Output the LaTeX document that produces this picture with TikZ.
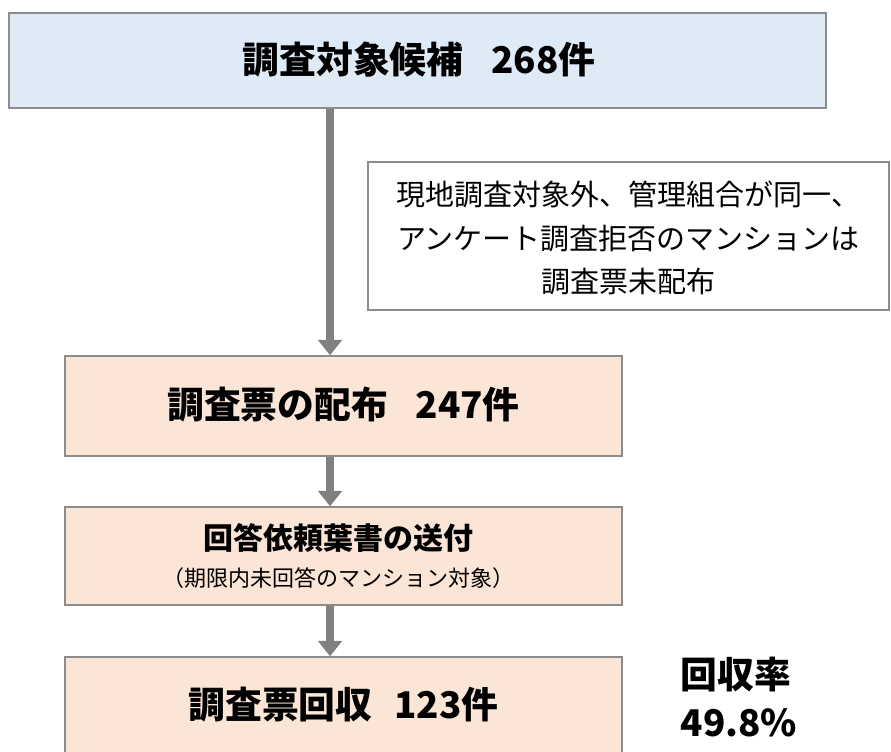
\documentclass[tikz,border=0pt]{standalone}
\usepackage{fontspec}
\usetikzlibrary{arrows.meta}
\newfontfamily\jp{Noto Sans CJK JP}
\definecolor{bluefill}{HTML}{DEEAF6}
\definecolor{peach}{HTML}{FBE5D6}
\definecolor{edge}{HTML}{8C8C8C}
\definecolor{arrowgray}{HTML}{808080}
\tikzset{
  box/.style={draw=edge, line width=1.1pt, inner sep=0pt, align=center, font=\jp},
  bluebox/.style={box, fill=bluefill},
  peachbox/.style={box, fill=peach},
  notebox/.style={box, fill=white, font=\jp\fontsize{21.75pt}{32pt}\selectfont},
  big/.style={font=\jp\bfseries\fontsize{27.6pt}{33pt}\selectfont},
  flow/.style={draw=arrowgray, line width=6pt, -{Triangle[width=17.5pt,length=11.5pt]}}
}
\begin{document}
\begin{tikzpicture}[x=0.75pt,y=-0.75pt]
\useasboundingbox (0,0) rectangle (891,751);
\begin{scope}
\clip (0,0) rectangle (891,751);
\node[bluebox, minimum width=612.75pt, minimum height=71.25pt] (top) at (417.5,60.5) {};
\node[notebox, minimum width=390.75pt, minimum height=111pt] (note) at (628.5,236) {};
\node[peachbox, minimum width=417.75pt, minimum height=75pt] (b2) at (343.5,406) {};
\node[peachbox, minimum width=417.75pt, minimum height=73.5pt] (b3) at (343.5,556) {};
\node[peachbox, minimum width=417.75pt, minimum height=72pt] (b4) at (343.5,705) {};
\end{scope}
\node[big] (t1) at (419,60) {調査対象候補\hspace{0.75em}268件};
\node[align=center, font=\jp\fontsize{21.75pt}{32.5pt}\selectfont] (nt) at (628.5,238) {現地調査対象外、管理組合が同一、\\アンケート調査拒否のマンションは\\調査票未配布};
\node[big] (t2) at (343.5,405) {調査票の配布\hspace{0.75em}247件};
\node[font=\jp\bfseries\fontsize{22.5pt}{27pt}\selectfont] (t3a) at (338,538) {回答依頼葉書の送付};
\node[font=\jp\fontsize{16.5pt}{20pt}\selectfont] (t3b) at (338,578) {（期限内未回答のマンション対象）};
\node[big] (t4) at (343.5,705) {調査票回収\hspace{0.6em}123件};
\node[big, anchor=west, align=left, font=\jp\bfseries\fontsize{27.6pt}{36pt}\selectfont] (rate) at (676,697) {回収率\\49.8\%};
\coordinate (ax) at (330,0);
\draw[flow] (top.south -| ax) -- (b2.north -| ax);
\draw[flow] (b2.south -| ax) -- (b3.north -| ax);
\draw[flow] (b3.south -| ax) -- (b4.north -| ax);
\end{tikzpicture}
\end{document}
